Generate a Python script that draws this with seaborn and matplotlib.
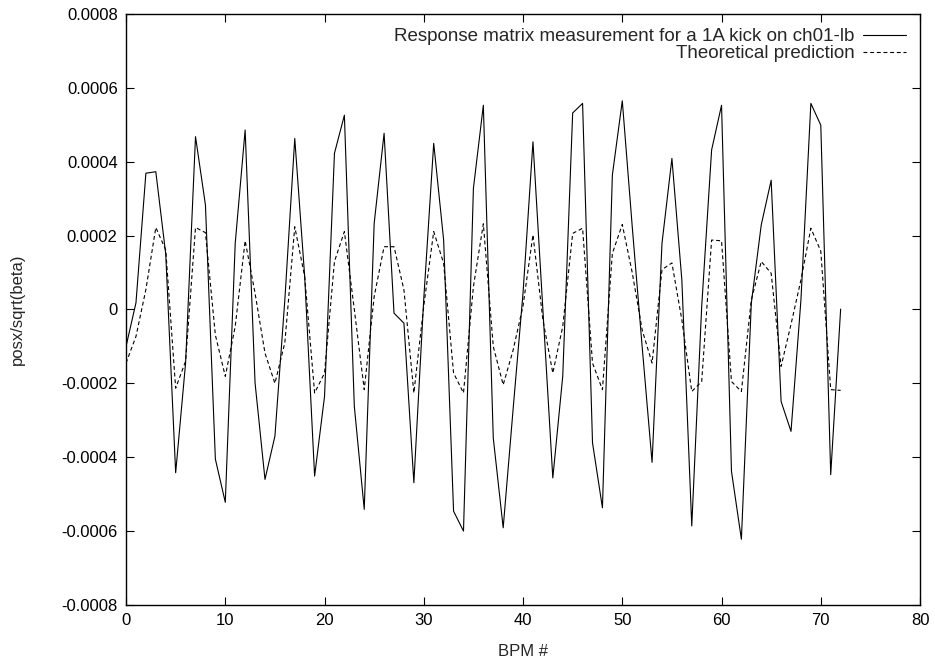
import numpy as np
import pandas as pd
import seaborn as sns
import matplotlib
matplotlib.use("Agg")
import matplotlib.pyplot as plt
from matplotlib.ticker import FuncFormatter, MultipleLocator

# BPM index
bpm = list(range(73))

# measured response (posx/sqrt(beta)) for a 1A kick on ch01-lb
measured = [
    -0.000100, 0.000018, 0.000369, 0.000373, 0.000150, -0.000442, -0.000145, 0.000468,
    0.000283, -0.000405, -0.000522, 0.000179, 0.000486, -0.000199, -0.000460, -0.000343,
    0.000026, 0.000463, 0.000089, -0.000451, -0.000235, 0.000423, 0.000526, -0.000262,
    -0.000541, 0.000233, 0.000477, -0.000010, -0.000037, -0.000469, 0.000030, 0.000450,
    0.000188, -0.000546, -0.000600, 0.000328, 0.000553, -0.000348, -0.000591, -0.000270,
    0.000045, 0.000454, -0.000001, -0.000456, -0.000181, 0.000532, 0.000558, -0.000361,
    -0.000537, 0.000364, 0.000565, 0.000225, -0.000100, -0.000414, 0.000179, 0.000409,
    0.000080, -0.000586, 0.000008, 0.000432, 0.000553, -0.000438, -0.000622, 0.000017,
    0.000229, 0.000350, -0.000249, -0.000330, 0.000026, 0.000558, 0.000499, -0.000447,
    0.000001,
]

# theoretical prediction
theory = [
    -0.000145, -0.000073, 0.000054, 0.000222, 0.000161, -0.000213, -0.000140, 0.000222,
    0.000208, -0.000069, -0.000181, -0.000046, 0.000186, 0.000044, -0.000118, -0.000200,
    -0.000090, 0.000224, 0.000089, -0.000226, -0.000172, 0.000130, 0.000211, 0.000000,
    -0.000217, 0.000035, 0.000170, 0.000170, 0.000053, -0.000226, 0.000010, 0.000211,
    0.000125, -0.000172, -0.000226, 0.000062, 0.000232, -0.000100, -0.000204, -0.000110,
    0.000010, 0.000202, -0.000028, -0.000172, -0.000046, 0.000206, 0.000220, -0.000145,
    -0.000217, 0.000152, 0.000230, 0.000100, -0.000055, -0.000145, 0.000108, 0.000126,
    -0.000028, -0.000222, -0.000195, 0.000188, 0.000186, -0.000195, -0.000222, 0.000026,
    0.000130, 0.000098, -0.000154, -0.000040, 0.000080, 0.000220, 0.000158, -0.000217,
    -0.000219,
]

df = pd.DataFrame({"bpm": bpm, "measured": measured, "theory": theory})

sns.set_style("ticks")
plt.rcParams["font.family"] = ["Liberation Sans", "DejaVu Sans"]
plt.rcParams["xtick.direction"] = "in"
plt.rcParams["ytick.direction"] = "in"

fig = plt.figure(figsize=(9.35, 6.64), dpi=100)
ax = fig.add_axes([0.1348, 0.0889, 0.8492, 0.8900])

sns.lineplot(data=df, x="bpm", y="measured", ax=ax, color="black", linewidth=0.8,
             label="Response matrix measurement for a 1A kick on ch01-lb")
sns.lineplot(data=df, x="bpm", y="theory", ax=ax, color="black", linewidth=0.8,
             linestyle=(0, (3.5, 2.5)), label="Theoretical prediction")

ax.set_xlim(0, 80)
ax.set_ylim(-0.0008, 0.0008)
ax.xaxis.set_major_locator(MultipleLocator(10))
ax.yaxis.set_major_locator(MultipleLocator(0.0002))
ax.yaxis.set_major_formatter(FuncFormatter(lambda v, p: "0" if abs(v) < 1e-12 else f"{v:.4f}"))
ax.tick_params(axis="both", which="major", length=6, width=0.8, labelsize=12,
               top=True, right=True, pad=6, colors="black")

for s in ax.spines.values():
    s.set_linewidth(1.0)
    s.set_color("black")

ax.set_xlabel("BPM #", fontsize=12, labelpad=11)
ax.set_ylabel("posx/sqrt(beta)", fontsize=12, labelpad=26)

leg = ax.legend(loc="upper right", frameon=False, markerfirst=False, fontsize=13.5,
                handlelength=2.3, handletextpad=0.45, labelspacing=0.0,
                borderaxespad=0.35)

fig.savefig("out.png", dpi=100)
